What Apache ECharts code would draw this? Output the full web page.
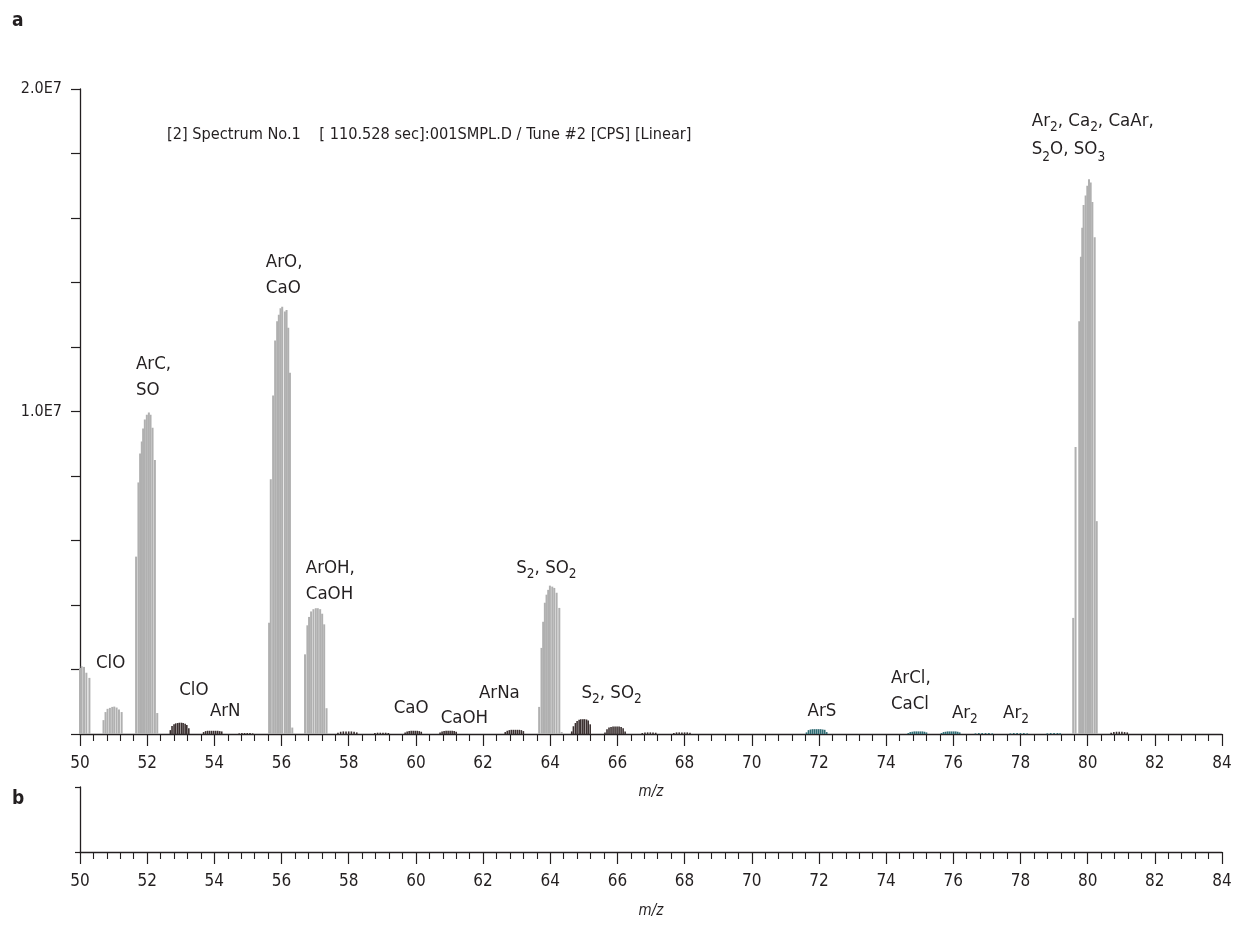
<!DOCTYPE html>
<html>
<head>
<meta charset="utf-8">
<script src="https://cdn.jsdelivr.net/npm/echarts@6/dist/echarts.min.js"></script>
<style>
  html, body { margin: 0; padding: 0; background: #ffffff; }
  #chart { width: 1235px; height: 928px; }
</style>
</head>
<body>
<div id="chart"></div>
<script>
// Profile spectrum, m/z 50–84, intensity in CPS. Each entry is one sampled point [m/z, cps].
// Major peaks (light grey)
const greyPoints = [
  [50.00, 2.05e6], [50.05, 2.10e6], [50.12, 2.08e6], [50.19, 1.90e6], [50.28, 1.74e6],
  [50.70, 0.43e6], [50.76, 0.68e6], [50.82, 0.78e6], [50.89, 0.81e6], [50.96, 0.84e6],
  [51.02, 0.85e6], [51.09, 0.82e6], [51.16, 0.76e6], [51.24, 0.68e6],
  [51.67, 5.5e6], [51.74, 7.8e6], [51.79, 8.7e6], [51.84, 9.07e6], [51.88, 9.47e6],
  [51.93, 9.75e6], [51.99, 9.9e6], [52.05, 9.97e6], [52.10, 9.9e6], [52.16, 9.5e6],
  [52.23, 8.5e6], [52.30, 0.65e6],
  [55.63, 3.45e6], [55.68, 7.9e6], [55.75, 10.5e6], [55.81, 12.2e6], [55.87, 12.8e6],
  [55.92, 13.0e6], [55.97, 13.2e6], [56.02, 13.25e6], [56.10, 13.1e6], [56.15, 13.15e6],
  [56.20, 12.6e6], [56.25, 11.2e6], [56.32, 0.2e6],
  [56.70, 2.47e6], [56.77, 3.37e6], [56.82, 3.63e6], [56.88, 3.8e6], [56.95, 3.87e6],
  [57.02, 3.9e6], [57.08, 3.9e6], [57.15, 3.87e6], [57.21, 3.73e6], [57.27, 3.4e6],
  [57.34, 0.8e6],
  [63.67, 0.84e6], [63.74, 2.67e6], [63.79, 3.48e6], [63.84, 4.07e6], [63.89, 4.32e6],
  [63.94, 4.47e6], [63.99, 4.6e6], [64.06, 4.57e6], [64.12, 4.53e6], [64.19, 4.38e6],
  [64.27, 3.91e6], [64.34, 0.06e6],
  [79.57, 3.6e6], [79.64, 8.9e6], [79.75, 12.8e6], [79.80, 14.8e6], [79.84, 15.7e6],
  [79.88, 16.4e6], [79.94, 16.7e6], [79.99, 17.0e6], [80.04, 17.2e6], [80.09, 17.1e6],
  [80.14, 16.5e6], [80.21, 15.4e6], [80.27, 6.6e6]
];

// Minor peaks (dark)
const darkPoints = [
  [52.69, 0.12e6], [52.74, 0.25e6], [52.80, 0.30e6], [52.85, 0.33e6], [52.91, 0.34e6],
  [52.96, 0.35e6], [53.02, 0.35e6], [53.07, 0.34e6], [53.13, 0.32e6], [53.18, 0.28e6],
  [53.24, 0.18e6],
  [53.68, 0.06e6], [53.74, 0.09e6], [53.80, 0.10e6], [53.86, 0.10e6], [53.92, 0.10e6],
  [53.98, 0.10e6], [54.04, 0.10e6], [54.10, 0.10e6], [54.16, 0.09e6], [54.22, 0.08e6],
  [54.74, 0.02e6], [54.82, 0.03e6], [54.90, 0.03e6], [54.98, 0.03e6], [55.06, 0.03e6], [55.14, 0.02e6],
  [57.68, 0.04e6], [57.76, 0.07e6], [57.84, 0.08e6], [57.92, 0.08e6], [58.00, 0.08e6],
  [58.08, 0.08e6], [58.16, 0.07e6], [58.24, 0.05e6],
  [58.78, 0.03e6], [58.86, 0.04e6], [58.94, 0.04e6], [59.02, 0.04e6], [59.10, 0.04e6], [59.18, 0.03e6],
  [59.68, 0.05e6], [59.74, 0.08e6], [59.80, 0.09e6], [59.86, 0.10e6], [59.92, 0.10e6],
  [59.98, 0.10e6], [60.04, 0.10e6], [60.10, 0.09e6], [60.16, 0.07e6],
  [60.72, 0.05e6], [60.78, 0.08e6], [60.84, 0.09e6], [60.90, 0.10e6], [60.96, 0.10e6],
  [61.02, 0.10e6], [61.08, 0.10e6], [61.14, 0.09e6], [61.20, 0.07e6],
  [62.66, 0.06e6], [62.72, 0.10e6], [62.78, 0.12e6], [62.84, 0.13e6], [62.90, 0.13e6],
  [62.96, 0.13e6], [63.02, 0.13e6], [63.08, 0.13e6], [63.14, 0.12e6], [63.20, 0.09e6],
  [64.64, 0.08e6], [64.69, 0.24e6], [64.75, 0.34e6], [64.80, 0.40e6], [64.86, 0.44e6],
  [64.91, 0.46e6], [64.97, 0.46e6], [65.02, 0.46e6], [65.08, 0.45e6], [65.13, 0.42e6],
  [65.19, 0.30e6],
  [65.63, 0.05e6], [65.69, 0.15e6], [65.75, 0.20e6], [65.81, 0.22e6], [65.87, 0.23e6],
  [65.93, 0.23e6], [65.99, 0.23e6], [66.05, 0.23e6], [66.11, 0.22e6], [66.17, 0.18e6],
  [66.23, 0.08e6],
  [66.74, 0.03e6], [66.82, 0.05e6], [66.90, 0.05e6], [66.98, 0.05e6], [67.06, 0.05e6], [67.14, 0.04e6],
  [67.68, 0.03e6], [67.76, 0.05e6], [67.84, 0.05e6], [67.92, 0.05e6], [68.00, 0.05e6],
  [68.08, 0.05e6], [68.16, 0.04e6],
  [80.70, 0.04e6], [80.78, 0.06e6], [80.86, 0.07e6], [80.94, 0.07e6], [81.02, 0.07e6],
  [81.10, 0.06e6], [81.18, 0.05e6]
];

// Minor peaks (teal)
const tealPoints = [
  [71.63, 0.05e6], [71.69, 0.12e6], [71.75, 0.14e6], [71.81, 0.15e6], [71.87, 0.15e6],
  [71.93, 0.15e6], [71.99, 0.15e6], [72.05, 0.15e6], [72.11, 0.14e6], [72.17, 0.13e6],
  [72.23, 0.06e6],
  [74.66, 0.03e6], [74.72, 0.06e6], [74.78, 0.07e6], [74.84, 0.08e6], [74.90, 0.08e6],
  [74.96, 0.08e6], [75.02, 0.08e6], [75.08, 0.08e6], [75.14, 0.07e6], [75.20, 0.05e6],
  [75.65, 0.03e6], [75.71, 0.06e6], [75.77, 0.07e6], [75.83, 0.08e6], [75.89, 0.08e6],
  [75.95, 0.08e6], [76.01, 0.08e6], [76.07, 0.08e6], [76.13, 0.07e6], [76.19, 0.05e6],
  [76.66, 0.02e6], [76.76, 0.03e6], [76.86, 0.03e6], [76.96, 0.03e6], [77.06, 0.03e6], [77.16, 0.02e6],
  [77.70, 0.02e6], [77.80, 0.03e6], [77.90, 0.03e6], [78.00, 0.03e6], [78.10, 0.03e6], [78.20, 0.02e6],
  [78.80, 0.02e6], [78.90, 0.03e6], [79.00, 0.03e6], [79.10, 0.03e6], [79.18, 0.02e6]
];

// Peak assignments: [m/z anchor, cps anchor, label text]; anchor is the text block's top-left corner
const peakLabels = [
  [50.476, 2.60e6, '{t|ClO}'],
  [51.666, 11.88e6, '{t|ArC,}\n{t|SO}'],
  [55.532, 15.04e6, '{t|ArO,}\n{t|CaO}'],
  [56.722, 5.55e6, '{t|ArOH,}\n{t|CaOH}'],
  [52.954, 1.77e6, '{t|ClO}'],
  [53.867, 1.12e6, '{t|ArN}'],
  [59.340, 1.21e6, '{t|CaO}'],
  [60.738, 0.90e6, '{t|CaOH}'],
  [61.877, 1.67e6, '{t|ArNa}'],
  [62.989, 5.55e6, '{t|S}{s|2}{t|, SO}{s|2}'],
  [64.931, 1.67e6, '{t|S}{s|2}{t|, SO}{s|2}'],
  [71.663, 1.12e6, '{t|ArS}'],
  [74.143, 2.14e6, '{t|ArCl,}\n{t|CaCl}'],
  [75.958, 1.05e6, '{t|Ar}{s|2}'],
  [77.483, 1.05e6, '{t|Ar}{s|2}'],
  [78.337, 19.41e6, '{t|Ar}{s|2}{t|, Ca}{s|2}{t|, CaAr,}\n{u|S}{s|2}{u|O, SO}{s|3}']
];

const xTickLabels = ['50', '52', '54', '56', '58', '60', '62', '64', '66', '68', '70', '72', '74', '76', '78', '80', '82', '84'];
const yTickLabels = { 10000000: '1.0E7', 20000000: '2.0E7' };
const headerText = '[2] Spectrum No.1    [ 110.528 sec]:001SMPL.D / Tune #2 [CPS] [Linear]';

const INK = '#231f20';
const FONT = "'Liberation Sans Narrow', 'DejaVu Sans Condensed', 'Liberation Sans', sans-serif";

function stick(width) {
  return function (params, api) {
    const x = api.value(0), y = api.value(1);
    const top = api.coord([x, y]);
    const base = api.coord([x, 0]);
    return {
      type: 'rect',
      shape: { x: top[0] - width / 2, y: top[1], width: width, height: Math.max(base[1] - top[1], 0.8) },
      style: { fill: api.visual('color') }
    };
  };
}

// Text annotation placed at a data coordinate
function peakLabel(params, api) {
  const p = api.coord([api.value(0), api.value(1)]);
  const item = peakLabels[params.dataIndex];
  return {
    type: 'text',
    x: p[0], y: p[1],
    style: {
      text: item[2],
      align: 'left', verticalAlign: 'top',
      fill: INK,
      fontFamily: FONT, fontSize: 18.5,
      rich: {
        t: { fontFamily: FONT, fontSize: 18.5, lineHeight: 26, fill: INK },
        u: { fontFamily: FONT, fontSize: 18.5, lineHeight: 30, fill: INK },
        s: { fontFamily: FONT, fontSize: 13.5, lineHeight: 14, verticalAlign: 'bottom', fill: INK }
      }
    }
  };
}

function mzAxis(gridIndex) {
  return {
    type: 'value', gridIndex: gridIndex, min: 50, max: 84, interval: 2,
    name: 'm/z', nameLocation: 'middle', nameGap: gridIndex === 0 ? 51 : 52,
    nameTextStyle: { fontFamily: FONT, fontStyle: 'italic', fontSize: 15, color: INK },
    axisLine: { show: true, onZero: false, lineStyle: { color: INK, width: 1.3 } },
    axisTick: { show: true, length: 12, lineStyle: { color: INK, width: 1.2 } },
    minorTick: { show: true, splitNumber: 5, length: 7, lineStyle: { color: INK, width: 1.1 } },
    axisLabel: {
      margin: 21, fontFamily: FONT, fontSize: 17, color: INK,
      formatter: v => xTickLabels.includes(String(v)) ? String(v) : ''
    },
    splitLine: { show: false }, minorSplitLine: { show: false }
  };
}

const chart = echarts.init(document.getElementById('chart'), null, { renderer: 'canvas' });

chart.setOption({
  animation: false,
  backgroundColor: '#ffffff',
  grid: [
    { left: 80, right: 13, top: 89, height: 645 },
    { left: 80, right: 13, top: 787, height: 65 }
  ],
  xAxis: [mzAxis(0), mzAxis(1)],
  yAxis: [
    {
      type: 'value', gridIndex: 0, min: 0, max: 20000000, interval: 2000000,
      axisLine: { show: true, lineStyle: { color: INK, width: 1.3 } },
      axisTick: { show: true, length: 9, lineStyle: { color: INK, width: 1.2 } },
      axisLabel: {
        margin: 18, fontFamily: FONT, fontSize: 16, color: INK,
        formatter: v => yTickLabels[v] || ''
      },
      splitLine: { show: false }
    },
    {
      type: 'value', gridIndex: 1, min: 0, max: 1, interval: 1,
      axisLine: { show: true, lineStyle: { color: INK, width: 1.3 } },
      axisTick: { show: true, length: 5, lineStyle: { color: INK, width: 1.2 } },
      axisLabel: { show: false },
      splitLine: { show: false }
    }
  ],
  graphic: [
    { type: 'text', left: 12, top: 12, style: { text: 'a', font: "bold 19px " + FONT, fill: INK } },
    { type: 'text', left: 12, top: 790, style: { text: 'b', font: "bold 19px " + FONT, fill: INK } },
    { type: 'text', left: 167, top: 127, style: { text: headerText, font: "16.2px " + FONT, fill: INK } }
  ],
  series: [
    {
      type: 'custom', xAxisIndex: 0, yAxisIndex: 0, renderItem: stick(2.0),
      itemStyle: { color: '#b0b0b0' }, encode: { x: 0, y: 1 }, data: greyPoints, silent: true
    },
    {
      type: 'custom', xAxisIndex: 0, yAxisIndex: 0, renderItem: stick(1.6),
      itemStyle: { color: '#3a2f2f' }, encode: { x: 0, y: 1 }, data: darkPoints, silent: true
    },
    {
      type: 'custom', xAxisIndex: 0, yAxisIndex: 0, renderItem: stick(1.7),
      itemStyle: { color: '#2e6b73' }, encode: { x: 0, y: 1 }, data: tealPoints, silent: true
    },
    {
      type: 'custom', xAxisIndex: 0, yAxisIndex: 0, renderItem: peakLabel, clip: false,
      encode: { x: 0, y: 1 }, data: peakLabels.map(p => [p[0], p[1]]), silent: true
    }
  ]
});
</script>
</body>
</html>
